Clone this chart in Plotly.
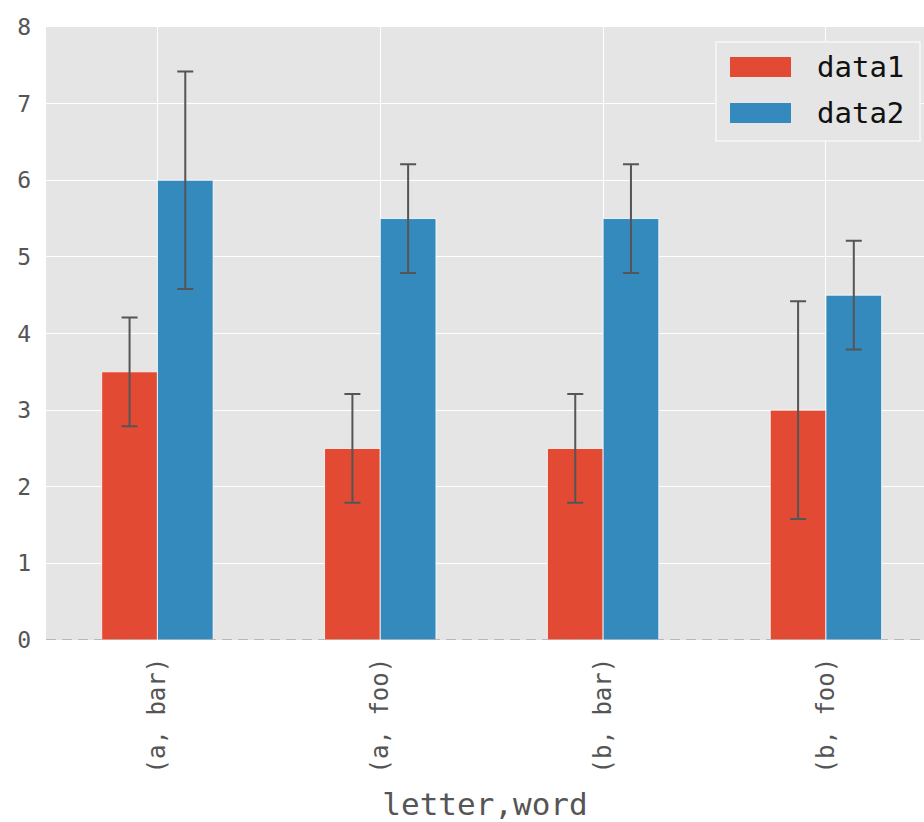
import plotly.graph_objects as go

categories = ["(a, bar)", "(a, foo)", "(b, bar)", "(b, foo)"]
positions = [0, 1, 2, 3]
data1 = [3.5, 2.5, 2.5, 3.0]
data2 = [6.0, 5.5, 5.5, 4.5]
err1 = [0.71, 0.71, 0.71, 1.42]
err2 = [1.42, 0.71, 0.71, 0.71]
yticks = [0, 1, 2, 3, 4, 5, 6, 7, 8]
series_names = ["data1", "data2"]

RED = "#E24A33"
BLUE = "#348ABD"
FONT = "DejaVu Sans Mono"

# plot area in pixels (for the legend drawn in paper coordinates)
W, H = 924, 822
ML, MR, MT, MB = 46, 0, 27, 182
PW, PH = W - ML - MR, H - MT - MB


def px_x(x):
    return (x - ML) / PW


def px_y(y):
    return (H - MB - y) / PH


fig = go.Figure()
colors = [RED, BLUE]
for name, vals, errs, col in zip(series_names, [data1, data2], [err1, err2], colors):
    fig.add_trace(go.Bar(
        x=positions, y=vals, name=name, showlegend=False,
        marker=dict(color=col, line=dict(color="white", width=0.8)),
        error_y=dict(type="data", array=errs, visible=True, color="#555555",
                     thickness=2, width=8),
    ))

# dashed zero line
fig.add_shape(type="line", xref="paper", yref="y", x0=0, x1=1, y0=0, y1=0,
              line=dict(color="#AAAAAA", width=1.5, dash="10px,6px"), layer="above")

# legend (matplotlib style: wide swatches)
fig.add_shape(type="rect", xref="paper", yref="paper",
              x0=px_x(716), x1=px_x(920), y0=px_y(141), y1=px_y(42),
              fillcolor="#E5E5E5", line=dict(color="#F7F7F7", width=1.5), layer="above")
row_tops = [57, 103]
for name, col, top in zip(series_names, colors, row_tops):
    fig.add_shape(type="rect", xref="paper", yref="paper",
                  x0=px_x(730), x1=px_x(791), y0=px_y(top + 20), y1=px_y(top),
                  fillcolor=col, line=dict(width=0), layer="above")
    fig.add_annotation(xref="paper", yref="paper", x=px_x(815), y=px_y(top + 10),
                       xanchor="left", yanchor="middle", showarrow=False,
                       text=name, font=dict(family=FONT, size=29, color="#111111"))

fig.update_layout(
    width=W, height=H,
    margin=dict(l=ML, r=MR, t=MT, b=MB),
    paper_bgcolor="white", plot_bgcolor="#E5E5E5",
    barmode="group", bargap=0.5, bargroupgap=0,
    font=dict(family=FONT, color="#555555", size=24),
    showlegend=False,
    xaxis=dict(
        range=[-0.5, 3.44], tickmode="array", tickvals=positions, ticktext=categories,
        tickangle=-90, showgrid=True, gridcolor="white", gridwidth=1.2,
        zeroline=False, showline=False, ticks="", ticklabelstandoff=12,
        tickfont=dict(family=FONT, size=24, color="#555555"),
        title=dict(text="letter,word", font=dict(family=FONT, size=31, color="#555555"),
                   standoff=22),
    ),
    yaxis=dict(
        range=[0, 8], tickmode="array", tickvals=yticks,
        showgrid=True, gridcolor="white", gridwidth=1.2,
        zeroline=False, showline=False, ticks="", ticklabelstandoff=14,
        tickfont=dict(family=FONT, size=23, color="#555555"),
    ),
)

fig.write_html("out.html", config={"displayModeBar": False},
               post_script="document.body.style.margin='0';")
